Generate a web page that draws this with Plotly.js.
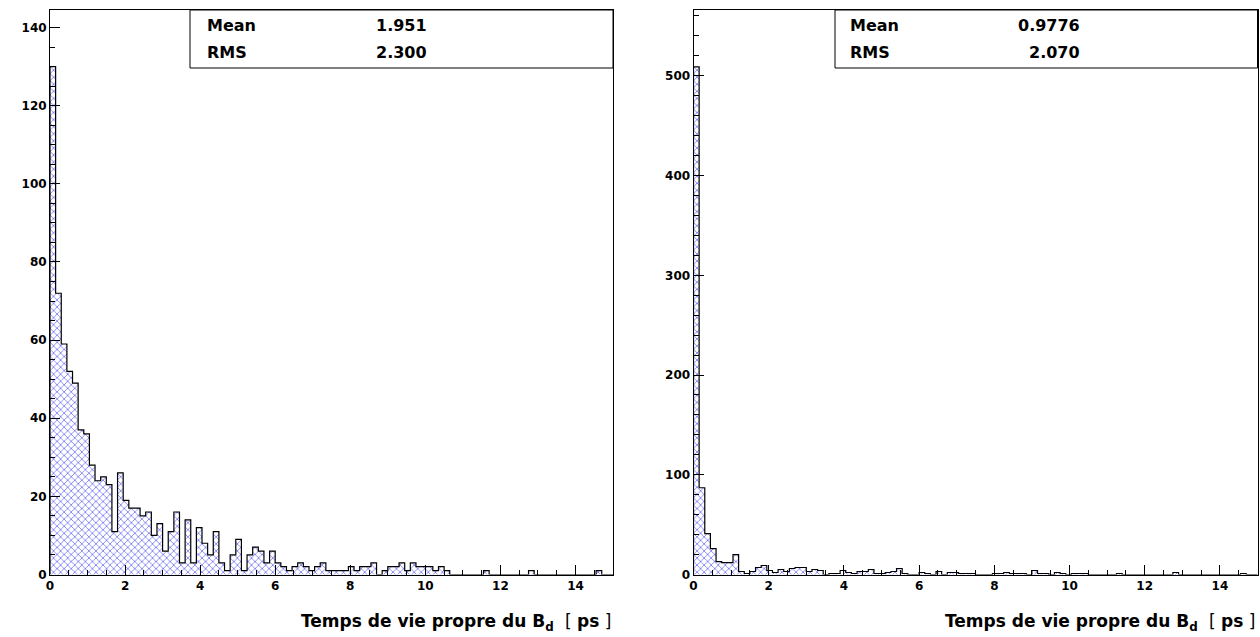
<!DOCTYPE html>
<html>
<head>
<meta charset="utf-8">
<script src="https://cdn.plot.ly/plotly-3.0.1.min.js"></script>
<style>
  html, body { margin: 0; padding: 0; background: #fff; }
  #chart { width: 1260px; height: 637px; }
</style>
</head>
<body>
<div id="chart"></div>
<script>
// ---------------- data ----------------
const xMin = 0;
const xMax = 15;
const nBins = 100;

const leftCounts = [
  130, 72, 59, 52, 49, 37, 36, 28, 24, 25,
  23, 11, 26, 19, 17, 17, 15, 16, 10, 13,
  6, 11, 16, 3, 14, 3, 12, 8, 5, 11,
  3, 1, 5, 9, 1, 5, 7, 6, 3, 6,
  3, 2, 1, 2, 3, 2, 1, 2, 3, 1,
  1, 1, 1, 2, 1, 2, 2, 3, 0, 1,
  2, 2, 3, 1, 3, 2, 2, 2, 1, 2,
  1, 0, 0, 0, 0, 0, 0, 1, 0, 0,
  0, 0, 0, 0, 0, 1, 0, 0, 0, 0,
  0, 0, 0, 0, 0, 0, 0, 1, 0, 0
];

const rightCounts = [
  509, 87, 41, 26, 13, 12, 12, 20, 3, 1,
  3, 7, 9, 4, 2, 5, 3, 6, 7, 7,
  3, 5, 4, 0, 1, 1, 4, 2, 1, 3,
  3, 5, 1, 1, 2, 3, 6, 1, 0, 0,
  2, 1, 0, 3, 0, 2, 2, 1, 1, 1,
  0, 0, 0, 1, 1, 2, 1, 1, 1, 0,
  4, 1, 1, 0, 2, 1, 0, 1, 1, 1,
  0, 0, 0, 0, 0, 1, 0, 0, 0, 0,
  0, 0, 0, 0, 0, 2, 0, 0, 0, 0,
  0, 0, 0, 0, 0, 0, 0, 1, 0, 0
];

const leftStats = { mean: "1.951", rms: "2.300" };
const rightStats = { mean: "0.9776", rms: "2.070" };
const statLabels = ["Mean", "RMS"];
const xTitle = "Temps de vie propre du B";
const xTitleSub = "d";
const xUnit = "ps";

const leftYMax = 144.5;
const rightYMax = 566;

// ---------------- helpers ----------------
const W = 1260, H = 637;
const px = x => x / W;
const py = y => 1 - y / H;

const binW = (xMax - xMin) / nBins;
const centers = [], leftEdges = [];
for (let i = 0; i < nBins; i++) {
  centers.push(xMin + (i + 0.5) * binW);
  leftEdges.push(xMin + i * binW);
}

function stepTrace(counts, xa, ya) {
  const xs = [xMin], ys = [0];
  for (let i = 0; i < counts.length; i++) { xs.push(leftEdges[i]); ys.push(counts[i]); }
  xs.push(xMax); ys.push(0);
  return {
    type: 'scatter', mode: 'lines', x: xs, y: ys, xaxis: xa, yaxis: ya,
    line: { shape: 'hv', color: '#000', width: 1.2 }, hoverinfo: 'skip', showlegend: false
  };
}
function barTrace(counts, xa, ya) {
  return {
    type: 'bar', x: centers, y: counts, width: binW, xaxis: xa, yaxis: ya,
    marker: {
      color: '#ffffff',
      line: { width: 0 },
      pattern: { shape: 'x', fgcolor: '#7a7af2', bgcolor: '#ffffff', size: 5, solidity: 0.3 }
    },
    hoverinfo: 'skip', showlegend: false
  };
}

const tickFont = { family: 'DejaVu Sans', size: 12, color: '#000', weight: 'bold' };

function xAxis(domain, anchor) {
  return {
    domain: domain, anchor: anchor, range: [xMin, xMax],
    showline: true, linecolor: '#000', linewidth: 1, mirror: true,
    showgrid: false, zeroline: false,
    ticks: 'inside', ticklen: 10, tickcolor: '#000', tickwidth: 1,
    tick0: 0, dtick: 2, tickfont: tickFont,
    minor: { dtick: 0.5, ticks: 'inside', ticklen: 5, tickcolor: '#000', showgrid: false }
  };
}
function yAxis(anchor, ymax, dt, mdt) {
  return {
    domain: [py(574.5), py(10)], anchor: anchor, range: [0, ymax],
    showline: true, linecolor: '#000', linewidth: 1, mirror: true,
    showgrid: false, zeroline: false,
    ticks: 'inside', ticklen: 10, tickcolor: '#000', tickwidth: 1,
    tick0: 0, dtick: dt, tickfont: tickFont,
    minor: { dtick: mdt, ticks: 'inside', ticklen: 5, tickcolor: '#000', showgrid: false }
  };
}

const statFont = { family: 'DejaVu Sans', size: 16, color: '#000', weight: 'bold' };
const titleFont = { family: 'DejaVu Sans', size: 17, color: '#000', weight: 'bold' };
const unitFont = { family: 'DejaVu Sans', size: 17, color: '#000' };

function statsAnn(xLabel, xVal, stats) {
  const vals = [stats.mean, stats.rms];
  const rowsY = [25, 53];
  const out = [];
  for (let i = 0; i < 2; i++) {
    out.push({ xref: 'paper', yref: 'paper', x: px(xLabel), y: py(rowsY[i]), xanchor: 'left', yanchor: 'middle',
      text: statLabels[i], showarrow: false, font: statFont });
    out.push({ xref: 'paper', yref: 'paper', x: px(xVal[i]), y: py(rowsY[i]), xanchor: 'left', yanchor: 'middle',
      text: vals[i], showarrow: false, font: statFont });
  }
  return out;
}
function titleAnn(rightEdge) {
  return [
    { xref: 'paper', yref: 'paper', x: px(rightEdge - 57), y: py(622), xanchor: 'right', yanchor: 'middle',
      text: '<b>' + xTitle + '<sub>' + xTitleSub + '</sub></b>', showarrow: false, font: titleFont },
    { xref: 'paper', yref: 'paper', x: px(rightEdge), y: py(621), xanchor: 'right', yanchor: 'middle',
      text: '[ <b>' + xUnit + '</b> ]', showarrow: false, font: unitFont }
  ];
}

const data = [
  barTrace(leftCounts, 'x', 'y'),
  stepTrace(leftCounts, 'x', 'y'),
  barTrace(rightCounts, 'x2', 'y2'),
  stepTrace(rightCounts, 'x2', 'y2')
];

const layout = {
  width: W, height: H, autosize: false,
  margin: { l: 0, r: 0, t: 0, b: 0, pad: 0 },
  paper_bgcolor: '#fff', plot_bgcolor: 'rgba(0,0,0,0)',
  bargap: 0, barmode: 'overlay', showlegend: false,
  xaxis: xAxis([px(50), px(613)], 'y'),
  yaxis: yAxis('x', leftYMax, 20, 5),
  xaxis2: xAxis([px(693.5), px(1257.5)], 'y2'),
  yaxis2: yAxis('x2', rightYMax, 100, 20),
  shapes: [
    { type: 'rect', xref: 'paper', yref: 'paper', x0: px(190), x1: px(613), y0: py(68), y1: py(10),
      line: { color: '#000', width: 1 }, fillcolor: '#fff', layer: 'above' },
    { type: 'rect', xref: 'paper', yref: 'paper', x0: px(835), x1: px(1257.5), y0: py(68), y1: py(10),
      line: { color: '#000', width: 1 }, fillcolor: '#fff', layer: 'above' }
  ],
  annotations: [].concat(
    statsAnn(205, [374, 374], leftStats),
    statsAnn(848, [1016, 1027], rightStats),
    titleAnn(613),
    titleAnn(1257)
  )
};

Plotly.newPlot('chart', data, layout, { displayModeBar: false, staticPlot: true });
</script>
</body>
</html>
